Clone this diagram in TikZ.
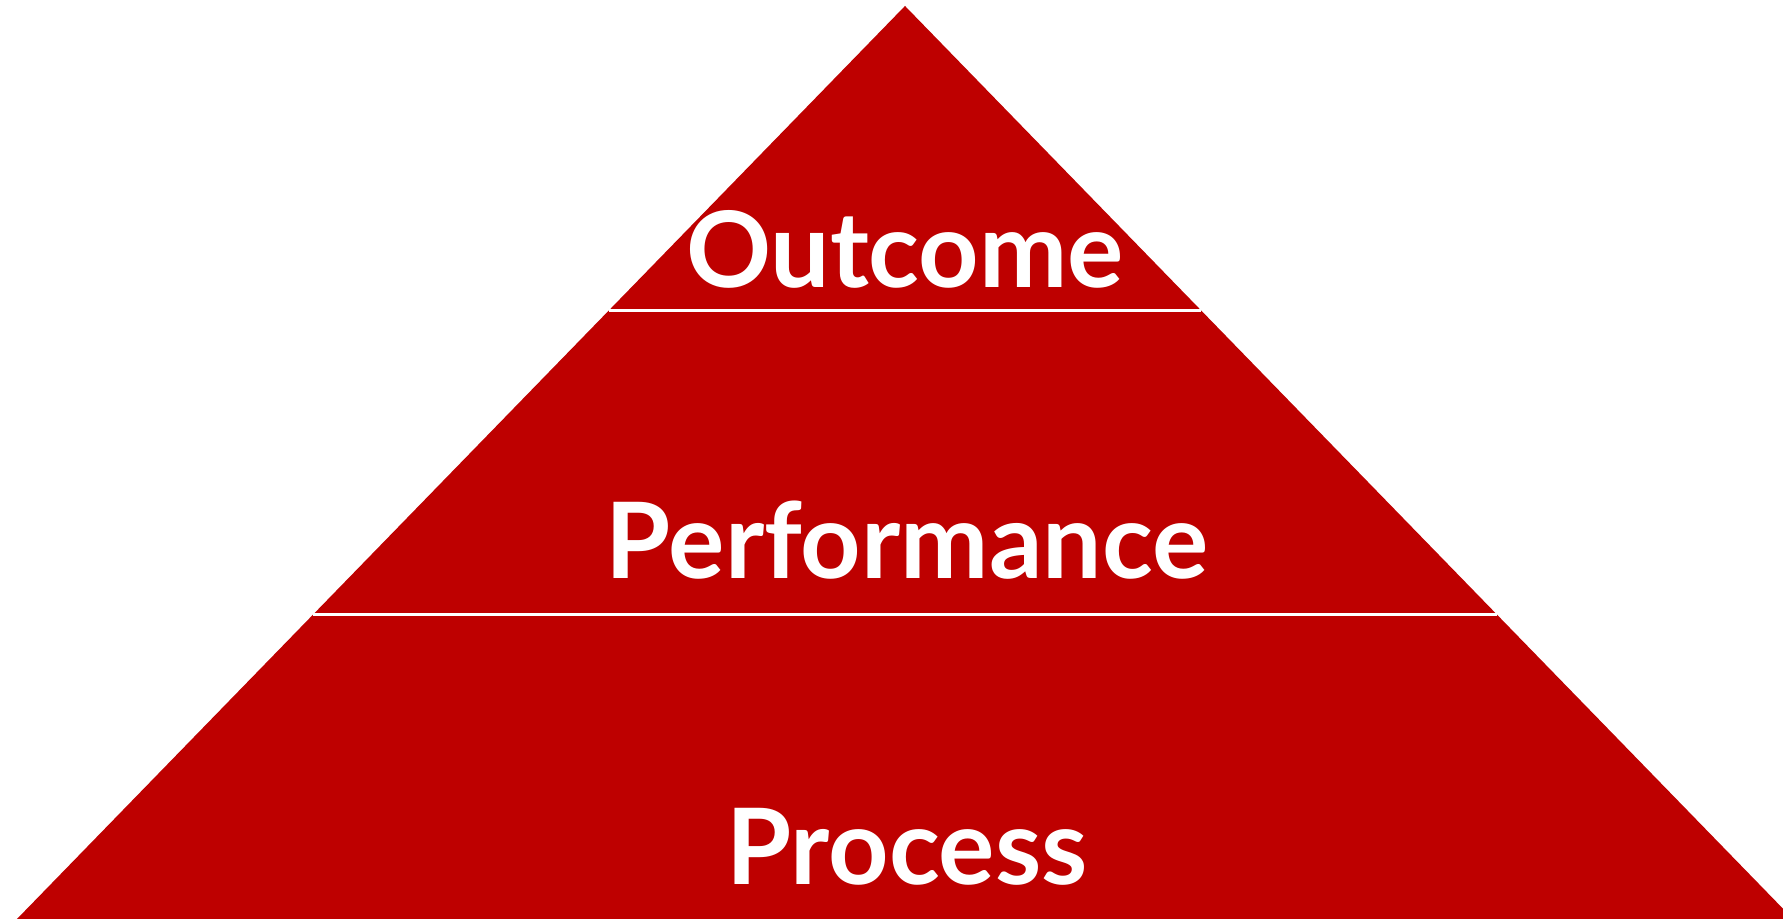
\documentclass[tikz,border=0pt]{standalone}
\usepackage{fontspec}
\setmainfont{Lato}
\usetikzlibrary{positioning,calc}
\definecolor{pyrared}{RGB}{190,0,0}
\tikzset{
  level label/.style={anchor=base, text=white, font=\bfseries\fontsize{30}{36}\selectfont},
  level line/.style={line width=0.8pt, color=white}
}
\begin{document}
\begin{tikzpicture}
\clip (0,0) rectangle (17.83,9.19);
\coordinate (bl) at (0.17,0);
\coordinate (br) at (17.93,0);
\coordinate (apex) at (9.05,9.13);
\fill[pyrared] (bl) -- (apex) -- (br) -- cycle;
% separators
\coordinate (l1) at ($(bl)!1/3!(apex)$);
\coordinate (r1) at ($(br)!1/3!(apex)$);
\coordinate (l2) at ($(bl)!2/3!(apex)$);
\coordinate (r2) at ($(br)!2/3!(apex)$);
\draw[level line] (l1) -- (r1);
\draw[level line] (l2) -- (r2);
% labels
\node[level label] (outcome) at (9.05,6.31) {Outcome};
\node[level label] (performance) at (9.07,3.40) {Performance};
\node[level label] (process) at (9.07,0.34) {Process};
\end{tikzpicture}
\end{document}
